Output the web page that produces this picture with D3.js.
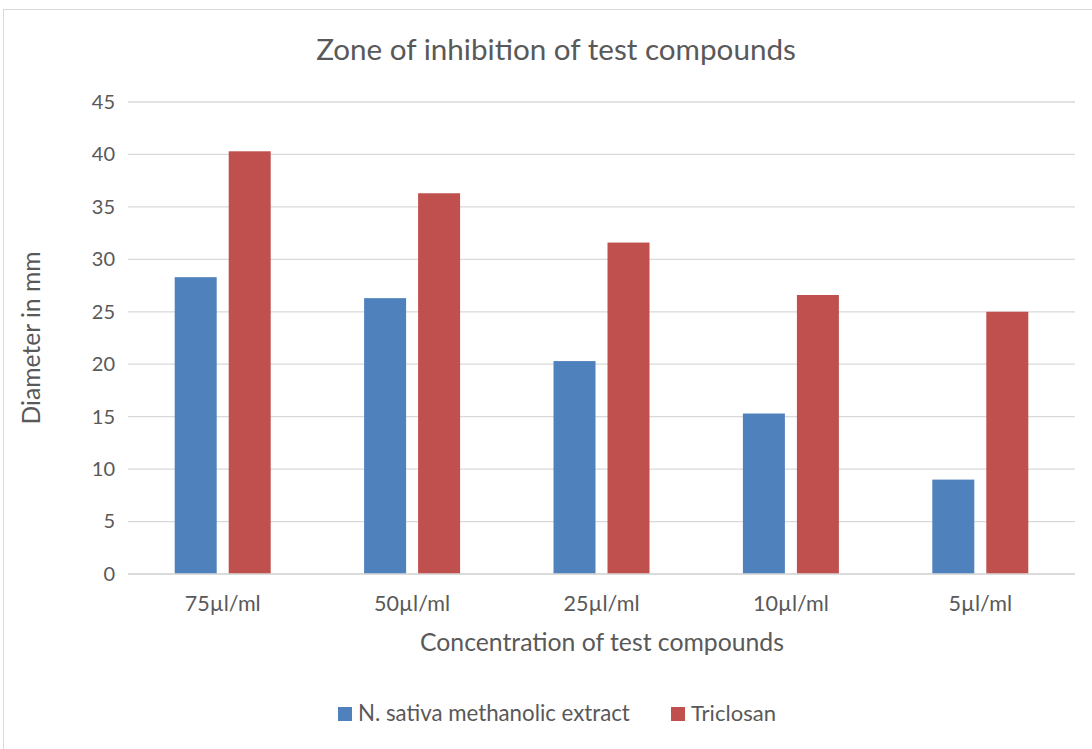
<!DOCTYPE html>
<html><head><meta charset="utf-8">
<script src="https://cdn.jsdelivr.net/npm/d3@7"></script>
<style>body{margin:0;background:#fff;} text{font-family:Lato,"Open Sans",sans-serif;fill:#595959;}</style>
</head><body><svg id="c" width="1092" height="749"></svg>
<script>
const categories = ["75µl/ml","50µl/ml","25µl/ml","10µl/ml","5µl/ml"];
const seriesNames = ["N. sativa methanolic extract","Triclosan"];
const nsativa = [28.3, 26.3, 20.3, 15.3, 9.0];
const triclosan = [40.3, 36.3, 31.6, 26.6, 25.0];
const yTicks = [0,5,10,15,20,25,30,35,40,45];
const colors = ["#4F81BD","#C0504D"];

(function(){
const svg = d3.select("#c");
function fit(sel, target){ // scale font so text width matches target width
  const n = sel.node(); const fs = parseFloat(sel.style("font-size"));
  const w = n.getComputedTextLength(); sel.style("font-size", (fs*target/w)+"px");
}
svg.append("rect").attr("x",3.5).attr("y",9.5).attr("width",1100).attr("height",760)
  .attr("fill","#fff").attr("stroke","#d9d9d9");

const pL=128,pR=1075,pT=102,pB=574;
const x = d3.scaleBand().domain(categories).range([pL,pR]).paddingInner(0).paddingOuter(0);
const y = d3.scaleLinear().domain([0,45]).range([pB,pT]);

svg.append("g").selectAll("line").data(yTicks).join("line")
  .attr("x1",pL).attr("x2",pR).attr("y1",d=>y(d)).attr("y2",d=>y(d))
  .attr("stroke","#d9d9d9").attr("stroke-width",1.3);

const yAx = svg.append("g").attr("transform",`translate(${pL},0)`)
  .call(d3.axisLeft(y).tickValues(yTicks).tickSize(0).tickPadding(13));
yAx.select(".domain").remove();
yAx.selectAll("text").style("font-size","20px").attr("fill","#595959").style("font-family","Lato,sans-serif");

const xAx = svg.append("g").attr("transform",`translate(0,${pB})`)
  .call(d3.axisBottom(x).tickSize(0).tickPadding(22));
xAx.select(".domain").remove();
xAx.selectAll("text").style("font-size","20px").attr("fill","#595959").style("font-family","Lato,sans-serif");
fit(xAx.select("text"), 76);
xAx.selectAll("text").style("font-size", xAx.select("text").style("font-size"));

const data = categories.map((c,i)=>({c, v:[nsativa[i],triclosan[i]]}));
const barW = 42, gap = 12;
const g = svg.append("g");
data.forEach(d=>{
  const cx = x(d.c)+x.bandwidth()/2;
  d.v.forEach((v,j)=>{
    const bx = j===0 ? cx-gap/2-barW : cx+gap/2;
    g.append("rect").attr("x",bx).attr("width",barW)
      .attr("y",y(v)).attr("height",y(0)-y(v)).attr("fill",colors[j]);
  });
});

svg.append("line").attr("x1",pL).attr("x2",pR).attr("y1",y(0)).attr("y2",y(0))
  .attr("stroke","#d9d9d9").attr("stroke-width",1.3);

const t = svg.append("text").attr("x",556).attr("y",60).attr("text-anchor","middle")
  .style("font-size","26px").text("Zone of inhibition of test compounds");
fit(t,480);
const xt = svg.append("text").attr("x",602).attr("y",651).attr("text-anchor","middle")
  .style("font-size","22px").text("Concentration of test compounds");
fit(xt,364);
const yt = svg.append("text").attr("transform","translate(40,338) rotate(-90)").attr("text-anchor","middle")
  .style("font-size","22px").text("Diameter in mm");
fit(yt,173);

const legX = [338, 671];
const legW = [272, 85];
seriesNames.forEach((n,i)=>{
  svg.append("rect").attr("x",legX[i]).attr("y",707).attr("width",14).attr("height",14).attr("fill",colors[i]);
  const lt = svg.append("text").attr("x",legX[i]+20).attr("y",721).style("font-size","19px").text(n);
  fit(lt, legW[i]);
});
})();
</script></body></html>
